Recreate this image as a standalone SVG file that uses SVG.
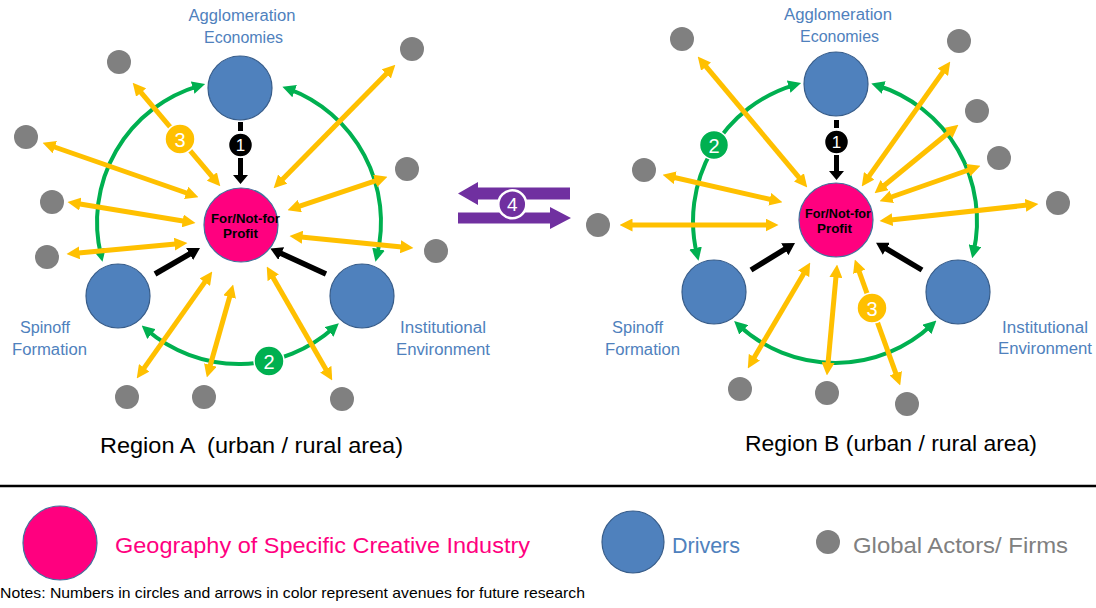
<svg xmlns="http://www.w3.org/2000/svg" width="1096" height="608" viewBox="0 0 1096 608">
<defs>
<style>
.drv{fill:#4F81BD;stroke:#385D8A;stroke-width:1.2}
.core{fill:#FF007F;stroke:#41719C;stroke-width:1.2}
.act{fill:#808080}
.lbl{font-family:"Liberation Sans",Arial,sans-serif;font-size:16px;fill:#4F81BD}
.ct{font-family:"Liberation Sans",Arial,sans-serif;font-size:13.5px;font-weight:bold;fill:#000;text-anchor:middle}
.y{stroke:#FFC000;stroke-width:5;fill:none;marker-start:url(#my);marker-end:url(#my)}
.g{stroke:#00B050;stroke-width:4;fill:none;marker-start:url(#mg);marker-end:url(#mg)}
.k{stroke:#000;stroke-width:5.5;fill:none;marker-end:url(#mk)}
.bt{font-family:"Liberation Sans",Arial,sans-serif;fill:#fff;text-anchor:middle}
.big{font-family:"Liberation Sans",Arial,sans-serif;font-size:22px;fill:#000}
.leg{font-family:"Liberation Sans",Arial,sans-serif;font-size:22px}
</style>
<marker id="my" viewBox="0 0 13 13" markerWidth="13" markerHeight="13" refX="6.5" refY="6.5" orient="auto-start-reverse" markerUnits="userSpaceOnUse"><path d="M0,0 L13,6.5 L0,13 Z" fill="#FFC000"/></marker>
<marker id="mg" viewBox="0 0 13 13" markerWidth="13" markerHeight="13" refX="6.5" refY="6.5" orient="auto-start-reverse" markerUnits="userSpaceOnUse"><path d="M0,0 L13,6.5 L0,13 Z" fill="#00B050"/></marker>
<marker id="mk" viewBox="0 0 12 14" markerWidth="12" markerHeight="14" refX="6" refY="7" orient="auto" markerUnits="userSpaceOnUse"><path d="M0,0 L12,7 L0,14 Z" fill="#000"/></marker>
</defs>
<rect width="1096" height="608" fill="#fff"/>

<g id="connectors">
  <path class="g" d="M101.0,255.4 A142,142 0 0,1 198.9,85.8"/>
  <path class="g" d="M288.5,88.9 A142,142 0 0,1 377.0,255.4"/>
  <path class="g" d="M334.0,327.5 A142,142 0 0,1 146.6,329.8"/>
  <path class="g" d="M697.0,254.4 A142,142 0 0,1 794.9,84.8"/>
  <path class="g" d="M877.5,85.5 A142,142 0 0,1 973.6,252.0"/>
  <path class="g" d="M931.7,325.0 A142,142 0 0,1 738.9,325.5"/>

  <line class="y" x1="136.9" y1="87.6" x2="216.1" y2="181.4"/>
  <line class="y" x1="48.7" y1="145.0" x2="192.3" y2="195.0"/>
  <line class="y" x1="73.9" y1="203.0" x2="189.1" y2="222.0"/>
  <line class="y" x1="73.0" y1="253.5" x2="181.0" y2="243.5"/>
  <line class="y" x1="390.8" y1="69.3" x2="278.2" y2="183.7"/>
  <line class="y" x1="381.3" y1="178.9" x2="293.7" y2="208.1"/>
  <line class="y" x1="407.0" y1="247.4" x2="296.0" y2="236.6"/>
  <line class="y" x1="140.5" y1="373.1" x2="208.5" y2="276.9"/>
  <line class="y" x1="208.6" y1="371.2" x2="231.4" y2="290.8"/>
  <line class="y" x1="329.0" y1="374.8" x2="270.0" y2="272.2"/>
  <line class="y" x1="701.9" y1="61.6" x2="803.1" y2="182.4"/>
  <line class="y" x1="668.9" y1="176.3" x2="776.1" y2="200.7"/>
  <line class="y" x1="626" y1="225" x2="772" y2="225"/>
  <line class="y" x1="946.5" y1="66.9" x2="865.5" y2="181.1"/>
  <line class="y" x1="953.4" y1="128.8" x2="879.6" y2="189.2"/>
  <line class="y" x1="974.3" y1="168.0" x2="885.7" y2="199.0"/>
  <line class="y" x1="1032.0" y1="204.6" x2="886.0" y2="220.4"/>
  <line class="y" x1="751.1" y1="362.8" x2="806.9" y2="268.2"/>
  <line class="y" x1="827.5" y1="369.0" x2="836.5" y2="271.0"/>
  <line class="y" x1="898.0" y1="379.4" x2="857.0" y2="265.6"/>

  <line class="k" x1="155" y1="274" x2="194.8" y2="251.0"/>
  <line class="k" x1="326" y1="274" x2="275.8" y2="251.0"/>
  <line class="k" x1="751" y1="270" x2="789.9" y2="246.1"/>
  <line class="k" x1="922" y1="270" x2="881.2" y2="245.7"/>

  <rect x="238" y="122" width="5" height="9" fill="#000"/>
  <path d="M238,158 h5 v17 h5 l-7.5,9 l-7.5,-9 h5 z" fill="#000"/>
  <rect x="834" y="120" width="5" height="8" fill="#000"/>
  <path d="M834,155 h5 v16 h5 l-7.5,9 l-7.5,-9 h5 z" fill="#000"/>

  <path d="M458,193.5 L478,182 L478,187.5 L570,187.5 L570,199.5 L478,199.5 L478,205 Z" fill="#7030A0"/>
  <path d="M458,212.5 L550,212.5 L550,207 L571,218 L550,229 L550,223.5 L458,223.5 Z" fill="#7030A0"/>
</g>

<g id="badges">
  <g id="badge-1a"><circle cx="240.5" cy="145" r="12" fill="#000" stroke="#fff" stroke-width="1.5"/><text class="bt" x="240.5" y="151" font-size="17">1</text></g>
  <g id="badge-1b"><circle cx="836.5" cy="142" r="12" fill="#000" stroke="#fff" stroke-width="1.5"/><text class="bt" x="836.5" y="148" font-size="17">1</text></g>
  <g id="badge-3a"><circle cx="180" cy="139" r="15" fill="#FFC000" stroke="#fff" stroke-width="1.5"/><text class="bt" x="180" y="146.5" font-size="20">3</text></g>
  <g id="badge-2a"><circle cx="269" cy="361" r="15" fill="#00B050" stroke="#fff" stroke-width="1.5"/><text class="bt" x="269" y="368.5" font-size="20">2</text></g>
  <g id="badge-2b"><circle cx="714" cy="145" r="14.5" fill="#00B050" stroke="#fff" stroke-width="1.5"/><text class="bt" x="714" y="152.5" font-size="20">2</text></g>
  <g id="badge-3b"><circle cx="872" cy="308" r="15" fill="#FFC000" stroke="#fff" stroke-width="1.5"/><text class="bt" x="872" y="315.5" font-size="20">3</text></g>
  <g id="badge-4"><circle cx="512.3" cy="204.3" r="14" fill="#7030A0" stroke="#fff" stroke-width="2.5"/><text class="bt" x="512.3" y="211" font-size="19">4</text></g>
</g>

<g id="A-agglomeration"><circle class="drv" cx="240" cy="88" r="32"/>
  <text class="lbl" x="242" y="21" text-anchor="middle" textLength="107" lengthAdjust="spacingAndGlyphs">Agglomeration</text>
  <text class="lbl" x="243.5" y="43" text-anchor="middle" textLength="79" lengthAdjust="spacingAndGlyphs">Economies</text></g>
<g id="A-core"><circle class="core" cx="241" cy="225" r="37"/>
  <text class="ct" x="245.5" y="223" textLength="69" lengthAdjust="spacingAndGlyphs">For/Not-for</text>
  <text class="ct" x="240.5" y="238" textLength="35" lengthAdjust="spacingAndGlyphs">Profit</text></g>
<g id="A-spinoff"><circle class="drv" cx="118" cy="296" r="32"/>
  <text class="lbl" x="20" y="333" textLength="50" lengthAdjust="spacingAndGlyphs">Spinoff</text>
  <text class="lbl" x="12" y="355" textLength="75" lengthAdjust="spacingAndGlyphs">Formation</text></g>
<g id="A-institutional"><circle class="drv" cx="362" cy="296" r="32"/>
  <text class="lbl" x="400" y="333" textLength="86" lengthAdjust="spacingAndGlyphs">Institutional</text>
  <text class="lbl" x="396" y="355" textLength="94" lengthAdjust="spacingAndGlyphs">Environment</text></g>
<g id="A-actors">
  <circle class="act" cx="119" cy="62" r="12"/><circle class="act" cx="412" cy="49" r="12"/>
  <circle class="act" cx="26" cy="137" r="12"/><circle class="act" cx="407" cy="169" r="12"/>
  <circle class="act" cx="52" cy="202" r="12"/><circle class="act" cx="47" cy="257" r="12"/>
  <circle class="act" cx="436" cy="251" r="12"/><circle class="act" cx="127" cy="397" r="12"/>
  <circle class="act" cx="204" cy="397" r="12"/><circle class="act" cx="342" cy="399" r="12"/>
</g>
<text id="A-title" class="big" x="100" y="453" textLength="303" lengthAdjust="spacingAndGlyphs" xml:space="preserve">Region A  (urban / rural area)</text>

<g id="B-agglomeration"><circle class="drv" cx="836" cy="84" r="32"/>
  <text class="lbl" x="838" y="20" text-anchor="middle" textLength="108" lengthAdjust="spacingAndGlyphs">Agglomeration</text>
  <text class="lbl" x="839.5" y="42" text-anchor="middle" textLength="79" lengthAdjust="spacingAndGlyphs">Economies</text></g>
<g id="B-core"><circle class="core" cx="836" cy="220" r="37"/>
  <text class="ct" x="838" y="218" textLength="66" lengthAdjust="spacingAndGlyphs">For/Not-for</text>
  <text class="ct" x="834.5" y="233" textLength="35" lengthAdjust="spacingAndGlyphs">Profit</text></g>
<g id="B-spinoff"><circle class="drv" cx="714" cy="292" r="32"/>
  <text class="lbl" x="612" y="333" textLength="51" lengthAdjust="spacingAndGlyphs">Spinoff</text>
  <text class="lbl" x="605" y="355" textLength="75" lengthAdjust="spacingAndGlyphs">Formation</text></g>
<g id="B-institutional"><circle class="drv" cx="958" cy="292" r="32"/>
  <text class="lbl" x="1002" y="333" textLength="86" lengthAdjust="spacingAndGlyphs">Institutional</text>
  <text class="lbl" x="998" y="354" textLength="94" lengthAdjust="spacingAndGlyphs">Environment</text></g>
<g id="B-actors">
  <circle class="act" cx="682" cy="39" r="12"/><circle class="act" cx="959" cy="41" r="12"/>
  <circle class="act" cx="977" cy="111" r="12"/><circle class="act" cx="999" cy="158" r="12"/>
  <circle class="act" cx="1058" cy="203" r="12"/><circle class="act" cx="644" cy="170" r="12"/>
  <circle class="act" cx="598" cy="225" r="12"/><circle class="act" cx="740" cy="389" r="12"/>
  <circle class="act" cx="827" cy="393" r="12"/><circle class="act" cx="907" cy="404" r="12"/>
</g>
<text id="B-title" class="big" x="745" y="451" textLength="292" lengthAdjust="spacingAndGlyphs">Region B (urban / rural area)</text>

<g id="legend">
  <line x1="0" y1="486" x2="1096" y2="486" stroke="#000" stroke-width="2.5"/>
  <circle class="core" cx="60" cy="543" r="37"/>
  <text class="leg" x="115" y="553" fill="#FF007F" textLength="415" lengthAdjust="spacingAndGlyphs">Geography of Specific Creative Industry</text>
  <circle class="drv" cx="633" cy="542" r="31"/>
  <text class="leg" x="672" y="553" fill="#4F81BD" textLength="68" lengthAdjust="spacingAndGlyphs">Drivers</text>
  <circle class="act" cx="828" cy="542" r="12"/>
  <text class="leg" x="853" y="553" fill="#808080" textLength="215" lengthAdjust="spacingAndGlyphs">Global Actors/ Firms</text>
  <text x="0" y="598" font-family="'Liberation Sans',Arial,sans-serif" font-size="14.5" fill="#000" textLength="585" lengthAdjust="spacingAndGlyphs">Notes: Numbers in circles and arrows in color represent avenues for future research</text>
</g>
</svg>
